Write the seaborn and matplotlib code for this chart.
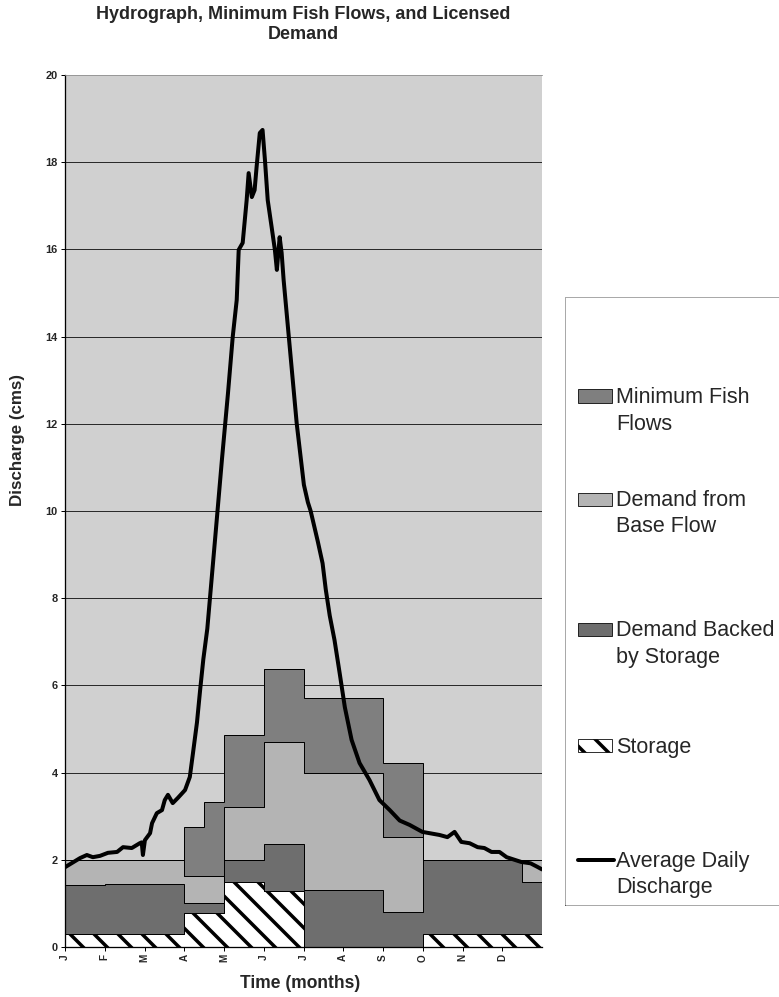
import numpy as np
import matplotlib
matplotlib.use("Agg")
import matplotlib.pyplot as plt
import seaborn as sns
from matplotlib.patches import Rectangle
from matplotlib.lines import Line2D

# -----------------------------
# DATA (cms), one value per half month, Jan 1st half ... Dec 2nd half
# -----------------------------
storage = [0.3, 0.3, 0.3, 0.3, 0.3, 0.3, 0.78, 0.78, 1.5, 1.5, 1.28, 1.28,
           0, 0, 0, 0, 0, 0, 0.3, 0.3, 0.3, 0.3, 0.3, 0.3]
backed = [1.12, 1.12, 1.15, 1.15, 1.15, 1.15, 0.24, 0.24, 0.5, 0.5, 1.08, 1.08,
          1.3, 1.3, 1.3, 1.3, 0.8, 0.8, 1.7, 1.7, 1.7, 1.7, 1.7, 1.2]
base_flow = [0.58, 0.58, 0.55, 0.55, 0.55, 0.55, 0.6, 0.6, 1.2, 1.2, 2.34, 2.34,
             2.7, 2.7, 2.7, 2.7, 1.72, 1.72, 0, 0, 0, 0, 0, 0.5]
fish = [0, 0, 0, 0, 0, 0, 1.14, 1.7, 1.67, 1.67, 1.67, 1.67,
        1.72, 1.72, 1.72, 1.72, 1.7, 1.7, 0, 0, 0, 0, 0, 0]

months = ["J", "F", "M", "A", "M", "J", "J", "A", "S", "O", "N", "D"]

# average daily discharge (time in months from 1 Jan)
flow_t = [0.0, 0.38, 0.55, 0.70, 0.88, 1.08, 1.31, 1.46, 1.68, 1.88, 1.93, 1.96,
          2.01, 2.14, 2.19, 2.31, 2.44, 2.51, 2.59, 2.71, 2.84, 3.02, 3.14, 3.22,
          3.32, 3.40, 3.48, 3.58, 3.78, 3.95, 4.10, 4.22, 4.32, 4.37, 4.47, 4.57,
          4.62, 4.70, 4.77, 4.82, 4.90, 4.97, 5.03, 5.10, 5.20, 5.28, 5.33, 5.40,
          5.45, 5.50, 5.63, 5.83, 6.01, 6.11, 6.18, 6.36, 6.48, 6.56, 6.66, 6.78,
          6.91, 7.04, 7.21, 7.41, 7.66, 7.91, 8.17, 8.42, 8.67, 8.99, 9.42, 9.62,
          9.80, 9.97, 10.18, 10.38, 10.55, 10.73, 10.93, 11.11, 11.31, 11.48,
          11.71, 11.88, 12.0]
flow_q = [1.83, 2.04, 2.11, 2.06, 2.09, 2.16, 2.18, 2.29, 2.27, 2.38, 2.40, 2.11,
          2.45, 2.61, 2.84, 3.07, 3.14, 3.37, 3.49, 3.30, 3.42, 3.60, 3.90, 4.45,
          5.15, 5.9, 6.6, 7.3, 9.4, 11.2, 12.7, 14.0, 14.84, 15.99, 16.15, 17.13,
          17.75, 17.2, 17.36, 17.89, 18.67, 18.74, 18.05, 17.13, 16.5, 15.99, 15.53, 16.28,
          15.92, 15.3, 14.0, 12.0, 10.6, 10.2, 10.0, 9.3, 8.8, 8.2, 7.6, 7.04,
          6.28, 5.5, 4.75, 4.22, 3.83, 3.37, 3.14, 2.90, 2.80, 2.64, 2.57, 2.52,
          2.64, 2.41, 2.38, 2.29, 2.27, 2.18, 2.18, 2.06, 2.0, 1.95,
          1.92, 1.84, 1.78]

# -----------------------------
# STYLE
# -----------------------------
sns.set_style("white")
plt.rcParams["font.family"] = ["Liberation Sans", "DejaVu Sans"]
plt.rcParams["hatch.linewidth"] = 3.5
plt.rcParams["hatch.color"] = "black"

W, H, DPI = 779, 997, 72
fig = plt.figure(figsize=(W / DPI, H / DPI), dpi=DPI)
ax = fig.add_axes([65 / W, 1 - 947 / H, 477 / W, 872 / H])
ax.set_facecolor("#d0d0d0")

col_fish = "#7f7f7f"
col_base = "#b4b4b4"
col_backed = "#6e6e6e"

# ===== stacked step areas =====
edges = np.arange(len(storage) + 1) * 0.5
bottom = np.zeros(len(storage))
layers = [(storage, "white", "\\"),
          (backed, col_backed, None),
          (base_flow, col_base, None),
          (fish, col_fish, None)]
for vals, col, hatch in layers:
    top = bottom + np.array(vals)
    ax.stairs(top, edges, baseline=bottom, fill=True, facecolor=col,
              edgecolor="black", linewidth=1, hatch=hatch, zorder=2)
    bottom = top

# ===== hydrograph =====
sns.lineplot(x=flow_t, y=flow_q, ax=ax, color="black", linewidth=4,
             sort=False, estimator=None, zorder=4)
ax.lines[-1].set_solid_joinstyle("round")

ax.set_xlim(0, 12)
ax.set_ylim(0, 20)
ax.set_yticks(np.arange(0, 21, 2))
ax.set_xticks(np.arange(12))
ax.set_xticklabels(months, rotation=90, fontsize=10, fontweight="bold")
for t in ax.get_yticklabels():
    t.set_fontsize(11)
    t.set_fontweight("bold")
ax.set_xlabel("")
ax.set_ylabel("")

ax.yaxis.grid(True, color="black", linewidth=0.8)
ax.get_ygridlines()[-1].set_visible(False)
ax.set_axisbelow(True)
ax.tick_params(bottom=True, left=True, direction="out", length=4, width=1,
               color="black", pad=3)
for s in ["left", "bottom"]:
    ax.spines[s].set_color("black")
    ax.spines[s].set_linewidth(1.3)
ax.spines["right"].set_visible(False)
ax.spines["top"].set_color("#8a8a8a")
ax.spines["top"].set_linestyle((0, (1, 1)))
ax.spines["top"].set_linewidth(0.8)

# ===== titles =====
fig.text(303 / W, 1 - 6 / H, "Hydrograph, Minimum Fish Flows, and Licensed\nDemand",
         ha="center", va="top", fontsize=18, fontweight="bold", linespacing=1.2)
fig.text(18 / W, 1 - 440 / H, "Discharge (cms)", rotation=90, ha="center",
         va="center", fontsize=17, fontweight="bold")
fig.text(300 / W, 1 - 984 / H, "Time (months)", ha="center", va="center",
         fontsize=17.5, fontweight="bold")

# ===== legend =====
fig.add_artist(Rectangle((565 / W, 1 - 905 / H), (W - 560) / W, (905 - 297) / H,
                         transform=fig.transFigure, fill=False, edgecolor="#555555",
                         linewidth=1, linestyle=(0, (1, 1))))
fs = 21.5
entries = [(["Minimum Fish", "Flows"], col_fish, None, 396),
           (["Demand from", "Base Flow"], col_base, None, 499),
           (["Demand Backed", "by Storage"], col_backed, None, 629),
           (["Storage"], "white", "\\", 745),
           (["Average Daily", "Discharge"], None, None, 860)]
for lines, col, hatch, yc in entries:
    if col is None:
        fig.add_artist(Line2D([578 / W, 614 / W], [1 - yc / H] * 2,
                              transform=fig.transFigure, color="black", linewidth=4))
    else:
        fig.add_artist(Rectangle((578 / W, 1 - (yc + 6.5) / H), 34 / W, 13 / H,
                                 transform=fig.transFigure, facecolor=col,
                                 edgecolor="black", linewidth=0.8, hatch=hatch))
    for i, line in enumerate(lines):
        fig.text(616 / W, 1 - (yc + 7.5 + i * 26) / H, line, ha="left",
                 va="baseline", fontsize=fs)

fig.savefig("out.png", dpi=DPI)
